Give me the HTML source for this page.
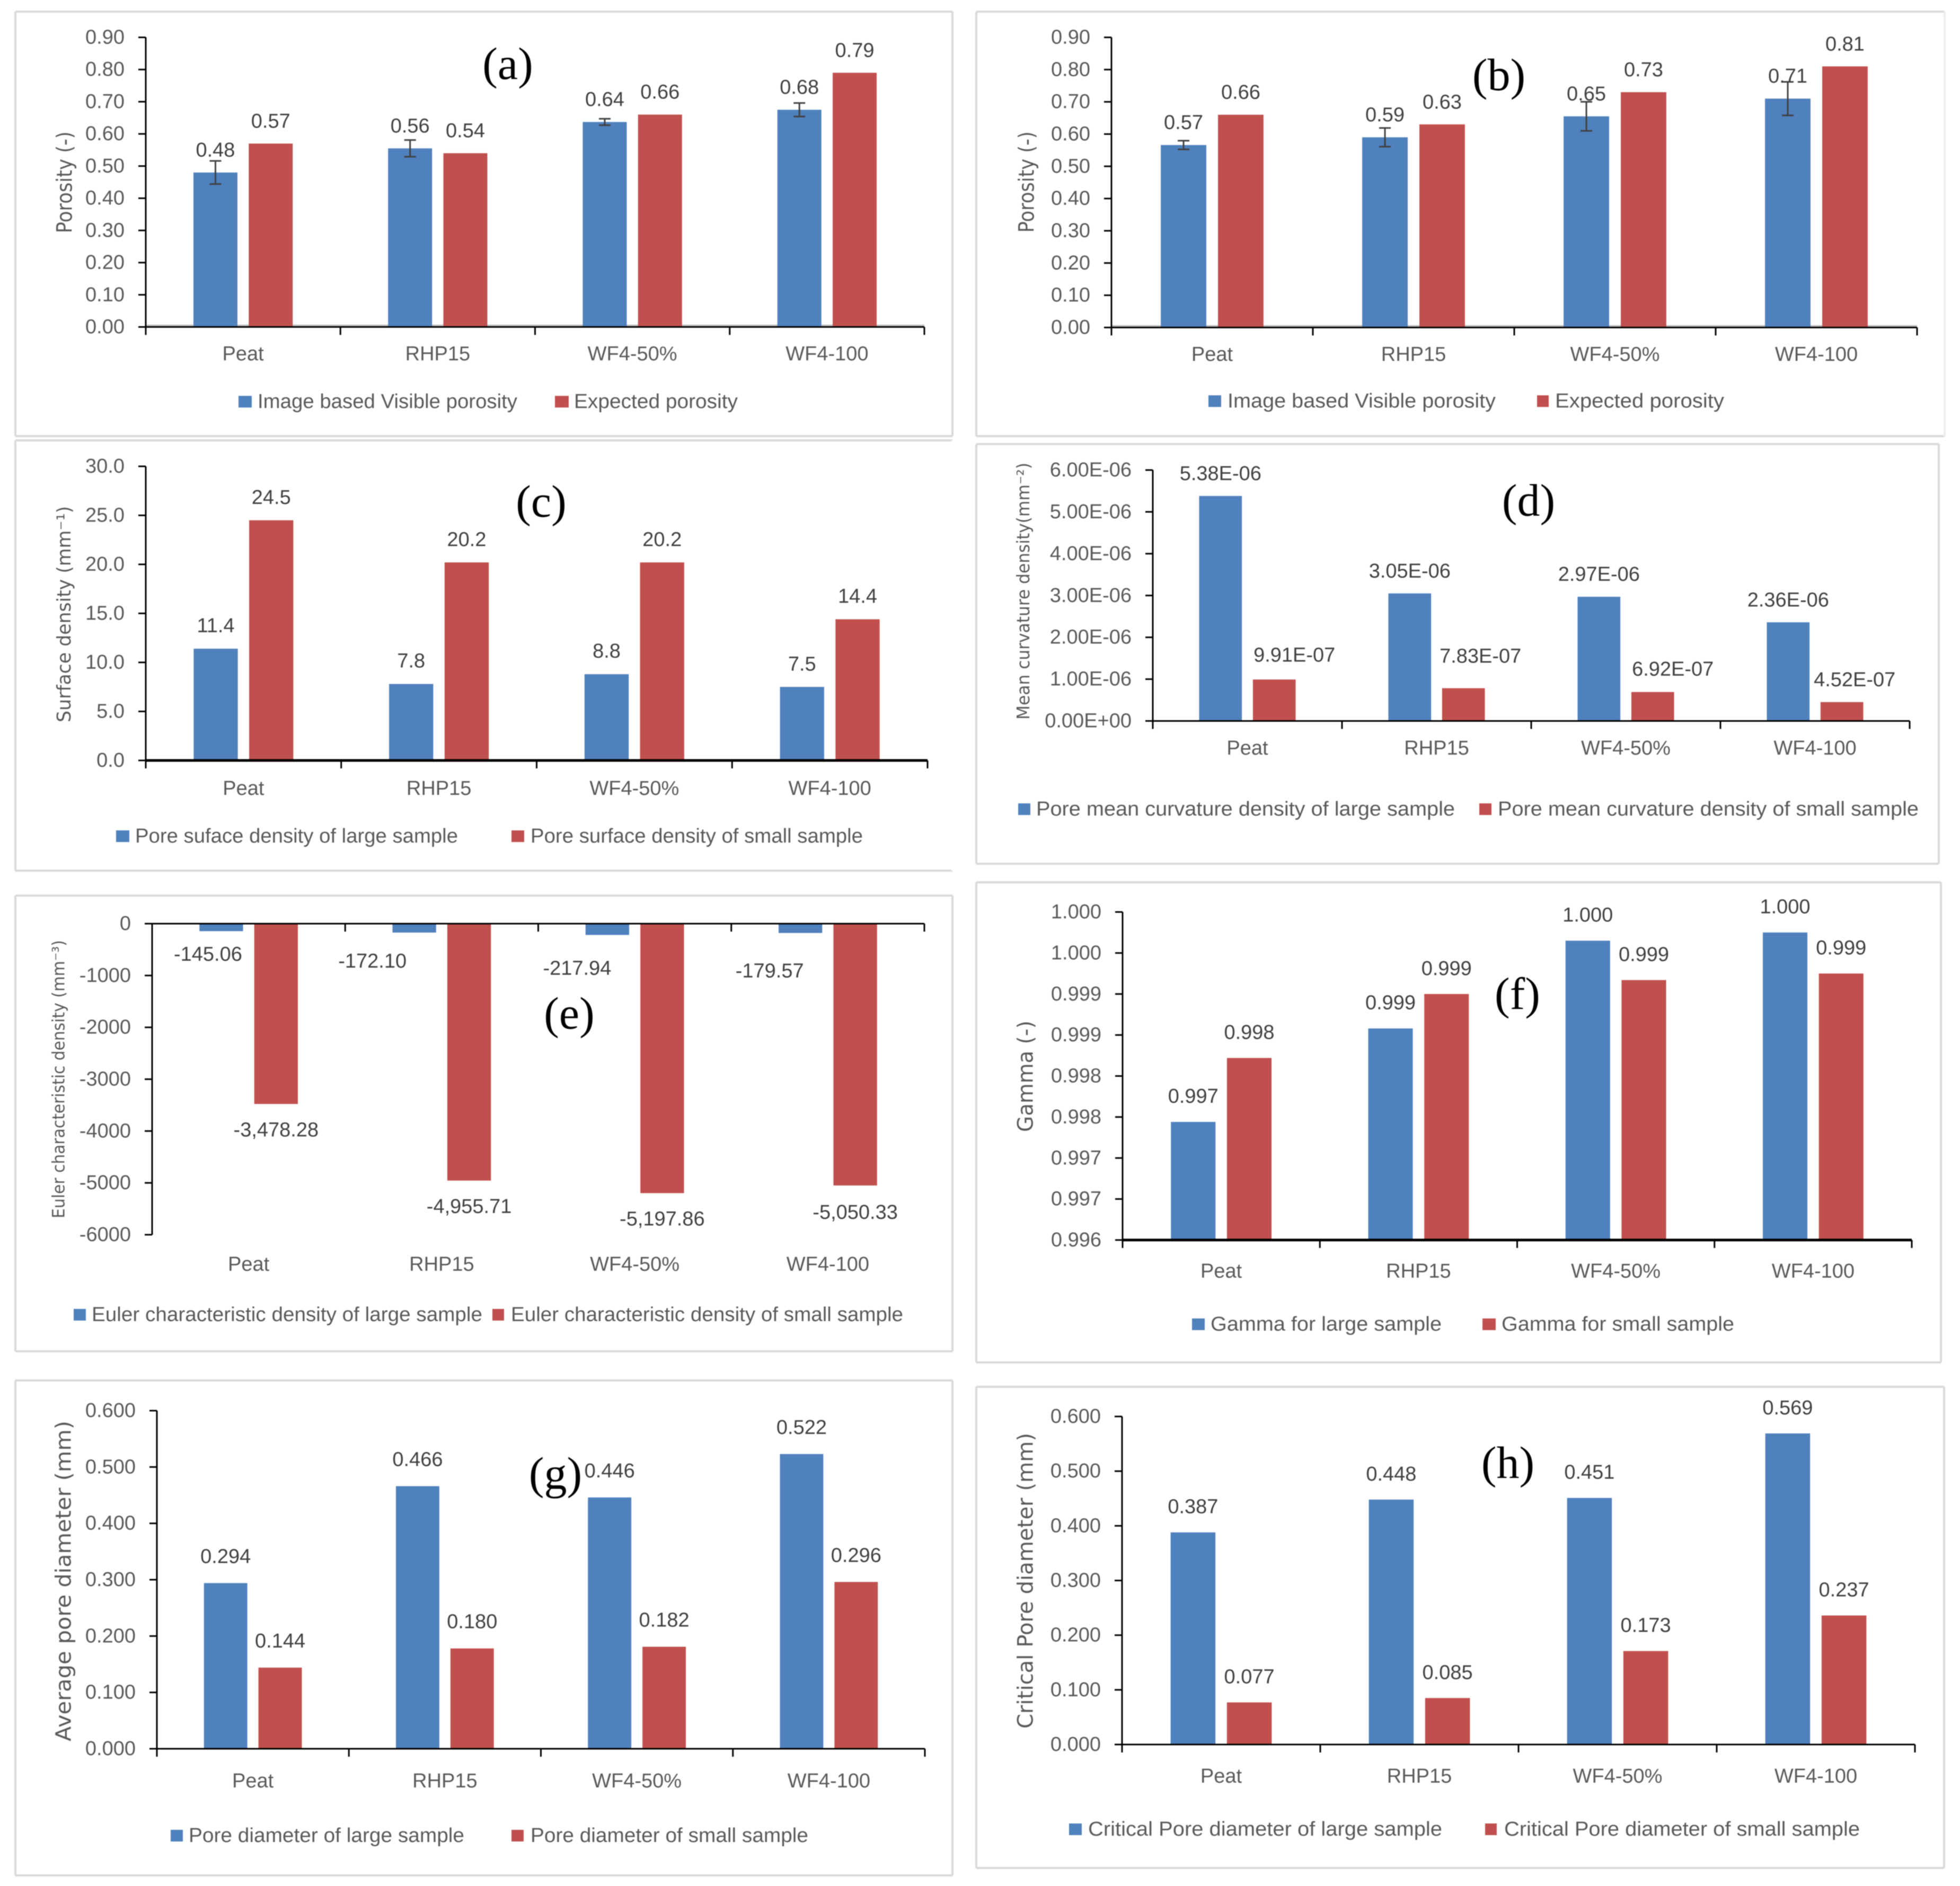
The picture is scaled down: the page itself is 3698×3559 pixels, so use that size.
<!DOCTYPE html>
<html lang="en">
<head>
<meta charset="utf-8">
<title>Pore structure comparison charts</title>
<style>
  html, body { margin: 0; padding: 0; background: #fff; width: 3698px; height: 3559px; overflow: hidden; }
  svg { display: block; filter: blur(0.8px); }
  text { font-family: "Liberation Sans", sans-serif; }
</style>
</head>
<body>
<svg id="figure" xmlns="http://www.w3.org/2000/svg" width="3698" height="3559" viewBox="0 0 3698 3559"></svg>
<script>
const categories = ["Peat", "RHP15", "WF4-50%", "WF4-100"];

const aLarge = [0.48, 0.555, 0.637, 0.675];
const aSmall = [0.57, 0.54, 0.66, 0.79];
const aLargeErr = [0.036, 0.026, 0.010, 0.021];
const aLargeText = ["0.48", "0.56", "0.64", "0.68"];
const aSmallText = ["0.57", "0.54", "0.66", "0.79"];

const bLarge = [0.566, 0.59, 0.655, 0.71];
const bSmall = [0.66, 0.63, 0.73, 0.81];
const bLargeErr = [0.0135, 0.029, 0.045, 0.052];
const bLargeText = ["0.57", "0.59", "0.65", "0.71"];
const bSmallText = ["0.66", "0.63", "0.73", "0.81"];

const porosityTicks = ["0.90", "0.80", "0.70", "0.60", "0.50", "0.40", "0.30", "0.20", "0.10", "0.00"];

const cLarge = [11.4, 7.8, 8.8, 7.5];
const cSmall = [24.5, 20.2, 20.2, 14.4];
const cLargeText = ["11.4", "7.8", "8.8", "7.5"];
const cSmallText = ["24.5", "20.2", "20.2", "14.4"];
const cTicks = ["30.0", "25.0", "20.0", "15.0", "10.0", "5.0", "0.0"];

const dLarge = [5.38e-6, 3.05e-6, 2.97e-6, 2.36e-6];
const dSmall = [9.91e-7, 7.83e-7, 6.92e-7, 4.52e-7];
const dLargeText = ["5.38E-06", "3.05E-06", "2.97E-06", "2.36E-06"];
const dSmallText = ["9.91E-07", "7.83E-07", "6.92E-07", "4.52E-07"];
const dTicks = ["6.00E-06", "5.00E-06", "4.00E-06", "3.00E-06", "2.00E-06", "1.00E-06", "0.00E+00"];

const eLarge = [-145.06, -172.10, -217.94, -179.57];
const eSmall = [-3478.28, -4955.71, -5197.86, -5050.33];
const eLargeText = ["-145.06", "-172.10", "-217.94", "-179.57"];
const eSmallText = ["-3,478.28", "-4,955.71", "-5,197.86", "-5,050.33"];
const eTicks = ["0", "-1000", "-2000", "-3000", "-4000", "-5000", "-6000"];

const fLarge = [0.99744, 0.99858, 0.99965, 0.99975];
const fSmall = [0.99822, 0.99900, 0.99917, 0.99925];
const fLargeText = ["0.997", "0.999", "1.000", "1.000"];
const fSmallText = ["0.998", "0.999", "0.999", "0.999"];
const fTicks = ["1.000", "1.000", "0.999", "0.999", "0.998", "0.998", "0.997", "0.997", "0.996"];

const gLarge = [0.294, 0.466, 0.446, 0.523];
const gSmall = [0.144, 0.178, 0.181, 0.296];
const gLargeText = ["0.294", "0.466", "0.446", "0.522"];
const gSmallText = ["0.144", "0.180", "0.182", "0.296"];
const gTicks = ["0.600", "0.500", "0.400", "0.300", "0.200", "0.100", "0.000"];

const hLarge = [0.388, 0.448, 0.451, 0.569];
const hSmall = [0.077, 0.085, 0.171, 0.236];
const hLargeText = ["0.387", "0.448", "0.451", "0.569"];
const hSmallText = ["0.077", "0.085", "0.173", "0.237"];
const hTicks = ["0.600", "0.500", "0.400", "0.300", "0.200", "0.100", "0.000"];

const BLUE = "#4f81bd";
const RED = "#c0504d";
const GREY = "#595959";
const DARK = "#404040";
const SVGNS = "http://www.w3.org/2000/svg";
const figure = document.getElementById("figure");

function make(parent, tag, props, name, content) {
  const el = document.createElementNS(SVGNS, tag);
  for (const key in props) el.setAttribute(key, props[key]);
  
  
  if (content !== undefined) el.textContent = content;
  parent.appendChild(el);
  return el;
}

function drawPanel(p) {
  const g = make(figure, "g", {}, "panel-" + p.id);
  const [fx1, fy1, fx2, fy2] = p.frame;

  make(g, "rect", { x: fx1, y: fy1, width: fx2 - fx1, height: fy2 - fy1, fill: "#ffffff" }, "panel-background");
  make(g, "line", { x1: fx1, y1: fy1, x2: fx2, y2: fy1, stroke: "#d9d9d9", "stroke-width": 4 }, "frame-top");
  make(g, "line", { x1: fx1, y1: fy2, x2: fx2, y2: fy2, stroke: "#d9d9d9", "stroke-width": 4 }, "frame-bottom");
  make(g, "line", { x1: fx1, y1: fy1, x2: fx1, y2: fy2, stroke: "#d9d9d9", "stroke-width": 4 }, "frame-left");
  make(g, "line", { x1: fx2, y1: fy1, x2: fx2, y2: fy2, stroke: p.frameRight || "#d9d9d9", "stroke-width": 4 }, "frame-right");

  const yScale = v => p.top + (p.max - v) / (p.max - p.min) * (p.bottom - p.top);
  const band = (p.right - p.left) / categories.length;
  const xCenter = i => p.left + band * (i + 0.5);
  const barW = band * 0.226;
  const barOff = band * 0.142;
  const axisY = yScale(p.base);

  if (p.axisShade) {
    make(g, "line", { x1: p.left, y1: axisY - 3, x2: p.right, y2: axisY - 3, stroke: "#bfbfbf", "stroke-width": 3 }, "x-axis-shadow");
  }

  categories.forEach((cat, i) => {
    const vL = p.large[i];
    const vS = p.small[i];
    const xL = xCenter(i) - barOff;
    const xS = xCenter(i) + barOff;
    const yL = yScale(vL);
    const yS = yScale(vS);
    make(g, "rect", { x: xL - barW / 2, y: Math.min(yL, axisY), width: barW, height: Math.abs(yL - axisY), fill: BLUE }, "bar-large-" + cat.toLowerCase().replace("%", ""));
    make(g, "rect", { x: xS - barW / 2, y: Math.min(yS, axisY), width: barW, height: Math.abs(yS - axisY), fill: RED }, "bar-small-" + cat.toLowerCase().replace("%", ""));

    if (p.err) {
      const up = yScale(vL + p.err[i]);
      const dn = yScale(vL - p.err[i]);
      const eg = make(g, "g", { stroke: DARK, "stroke-width": 3 }, "error-bar-" + cat.toLowerCase().replace("%", ""));
      make(eg, "line", { x1: xL, y1: up, x2: xL, y2: dn }, "error-stem");
      make(eg, "line", { x1: xL - 11, y1: up, x2: xL + 11, y2: up }, "error-cap-top");
      make(eg, "line", { x1: xL - 11, y1: dn, x2: xL + 11, y2: dn }, "error-cap-bottom");
    }

    const dxL = p.dxLarge ? p.dxLarge[i] : 0;
    const dyL = p.dyLarge ? p.dyLarge[i] : p.labelDy;
    const dxS = p.dxSmall ? p.dxSmall[i] : 0;
    const dyS = p.dySmall ? p.dySmall[i] : p.labelDy;
    make(g, "text", { x: xL + dxL, y: yL + dyL + 12, "text-anchor": "middle", "font-size": 38, fill: DARK }, "value-label-large", p.largeText[i]);
    make(g, "text", { x: xS + dxS, y: yS + dyS + 12, "text-anchor": "middle", "font-size": 38, fill: DARK }, "value-label-small", p.smallText[i]);

    make(g, "text", { x: xCenter(i), y: p.catY + 12, "text-anchor": "middle", "font-size": 38, fill: GREY }, "category-label", cat);
  });

  const yAxis = make(g, "g", { stroke: "#000000", "stroke-width": 3 }, "y-axis");
  make(yAxis, "line", { x1: p.left, y1: p.top, x2: p.left, y2: p.bottom + (p.base === p.min ? 14 : 0) }, "y-axis-line");
  p.ticks.forEach((label, i) => {
    const v = p.max - i * (p.max - p.min) / (p.ticks.length - 1);
    const y = yScale(v);
    make(yAxis, "line", { x1: p.left - 14, y1: y, x2: p.left, y2: y }, "y-tick");
    make(g, "text", { x: p.left - 40, y: y + 12, "text-anchor": "end", "font-size": 38, fill: GREY }, "y-tick-label", label);
  });

  const xAxis = make(g, "g", { stroke: "#000000", "stroke-width": p.axisWidth || 3 }, "x-axis");
  make(xAxis, "line", { x1: p.left, y1: axisY, x2: p.right, y2: axisY }, "x-axis-line");
  for (let i = 0; i <= categories.length; i++) {
    const x = p.left + band * i;
    make(xAxis, "line", { x1: x, y1: axisY, x2: x, y2: axisY + 15, "stroke-width": 3 }, "x-tick");
  }

  const titleY = (p.titleTop + p.titleBottom) / 2;
  make(g, "text", {
    transform: "translate(" + (p.titleX + p.titleSize * 0.36) + " " + titleY + ") rotate(-90)",
    "text-anchor": "middle",
    "font-size": p.titleSize,
    fill: GREY,
    style: 'font-family:"DejaVu Sans",sans-serif',
    textLength: p.titleBottom - p.titleTop,
    lengthAdjust: "spacingAndGlyphs"
  }, "y-axis-title", p.title);

  const lg = p.legend;
  const legend = make(g, "g", {}, "legend");
  make(legend, "rect", { x: lg.b[0], y: p.legendY - 11, width: lg.b[1] - lg.b[0], height: 22, fill: BLUE }, "legend-swatch-large");
  make(legend, "text", { x: lg.b[2], y: p.legendY + 12, "font-size": 38, fill: GREY, textLength: lg.b[3] - lg.b[2], lengthAdjust: "spacingAndGlyphs" }, "legend-entry-large", lg.bText);
  make(legend, "rect", { x: lg.r[0], y: p.legendY - 11, width: lg.r[1] - lg.r[0], height: 22, fill: RED }, "legend-swatch-small");
  make(legend, "text", { x: lg.r[2], y: p.legendY + 12, "font-size": 38, fill: GREY, textLength: lg.r[3] - lg.r[2], lengthAdjust: "spacingAndGlyphs" }, "legend-entry-small", lg.rText);

  make(g, "text", { x: p.tagX, y: p.tagY + 24, "text-anchor": "middle", "font-size": 86, fill: "#000000", style: 'font-family:"Liberation Serif",serif' }, "panel-tag", "(" + p.id + ")");
}

drawPanel({
  id: "a", frame: [29, 22, 1797, 823],
  left: 275, right: 1744, top: 70.5, bottom: 617, max: 0.9, min: 0, base: 0,
  large: aLarge, small: aSmall, err: aLargeErr, largeText: aLargeText, smallText: aSmallText,
  ticks: porosityTicks, labelDy: -42, catY: 668, legendY: 758, axisShade: true, axisWidth: 3,
  title: "Porosity (-)", titleX: 121, titleTop: 248, titleBottom: 440, titleSize: 40,
  legend: { b: [450, 475, 486, 976], r: [1047, 1073, 1083, 1392], bText: "Image based Visible porosity", rText: "Expected porosity" },
  tagX: 958, tagY: 125
});

drawPanel({
  id: "b", frame: [1842, 22, 3669, 823], frameRight: "#eeeeee",
  left: 2097, right: 3617, top: 70.5, bottom: 618, max: 0.9, min: 0, base: 0,
  large: bLarge, small: bSmall, err: bLargeErr, largeText: bLargeText, smallText: bSmallText,
  ticks: porosityTicks, labelDy: -42, catY: 669, legendY: 757, axisShade: true,
  title: "Porosity (-)", titleX: 1936, titleTop: 248, titleBottom: 439, titleSize: 40,
  legend: { b: [2280, 2304, 2316, 2822], r: [2900, 2922, 2934, 3253], bText: "Image based Visible porosity", rText: "Expected porosity" },
  tagX: 2828, tagY: 146
});

drawPanel({
  id: "c", frame: [29, 831, 1797, 1643], frameRight: "#ffffff",
  left: 275, right: 1750, top: 880, bottom: 1435, max: 30, min: 0, base: 0,
  large: cLarge, small: cSmall, largeText: cLargeText, smallText: cSmallText,
  ticks: cTicks, labelDy: -43, catY: 1488, legendY: 1578, axisWidth: 5,
  title: "Surface density (mm\u207B\u00B9)", titleX: 120, titleTop: 955, titleBottom: 1363, titleSize: 36,
  legend: { b: [219, 244, 255, 864], r: [965, 989, 1001, 1628], bText: "Pore suface density of large sample", rText: "Pore surface density of small sample" },
  tagX: 1021, tagY: 951
});

drawPanel({
  id: "d", frame: [1842, 838, 3658, 1630],
  left: 2175, right: 3603, top: 887, bottom: 1360.5, max: 6e-6, min: 0, base: 0,
  large: dLarge, small: dSmall, largeText: dLargeText, smallText: dSmallText,
  ticks: dTicks, labelDy: -42, dxSmall: [38, 32, 38, 24], dySmall: [-46, -60, -43, -42],
  catY: 1412, legendY: 1527,
  title: "Mean curvature density(mm\u207B\u00B2)", titleX: 1930, titleTop: 873, titleBottom: 1358, titleSize: 33,
  legend: { b: [1921, 1944, 1955, 2745], r: [2791, 2814, 2826, 3620], bText: "Pore mean curvature density of large sample", rText: "Pore mean curvature density of small sample" },
  tagX: 2884, tagY: 949
});

drawPanel({
  id: "e", frame: [29, 1690, 1797, 2550],
  left: 287, right: 1744, top: 1743, bottom: 2330, max: 0, min: -6000, base: 0,
  large: eLarge, small: eSmall, largeText: eLargeText, smallText: eSmallText,
  ticks: eTicks, dxLarge: [-25, -79, -57, -58], dyLarge: [44, 54, 63, 72], dySmall: [49, 49, 49, 51],
  catY: 2386, legendY: 2481,
  title: "Euler characteristic density (mm\u207B\u00B3)", titleX: 110, titleTop: 1774, titleBottom: 2299, titleSize: 32,
  legend: { b: [139, 162, 173, 910], r: [929, 951, 964, 1704], bText: "Euler characteristic density of large sample", rText: "Euler characteristic density of small sample" },
  tagX: 1074, tagY: 1917
});

drawPanel({
  id: "f", frame: [1842, 1665, 3662, 2571],
  left: 2118, right: 3607, top: 1721, bottom: 2340, max: 1.0, min: 0.996, base: 0.996,
  large: fLarge, small: fSmall, largeText: fLargeText, smallText: fSmallText,
  ticks: fTicks, labelDy: -48, catY: 2399, legendY: 2499, axisWidth: 5,
  title: "Gamma (-)", titleX: 1934, titleTop: 1926, titleBottom: 2136, titleSize: 40,
  legend: { b: [2249, 2273, 2284, 2720], r: [2797, 2822, 2833, 3272], bText: "Gamma for large sample", rText: "Gamma for small sample" },
  tagX: 2863, tagY: 1880
});

drawPanel({
  id: "g", frame: [29, 2605, 1797, 3539],
  left: 296, right: 1745, top: 2662, bottom: 3300, max: 0.6, min: 0, base: 0,
  large: gLarge, small: gSmall, largeText: gLargeText, smallText: gSmallText,
  ticks: gTicks, labelDy: -50, catY: 3361, legendY: 3464,
  title: "Average pore diameter (mm)", titleX: 119, titleTop: 2681, titleBottom: 3286, titleSize: 40,
  legend: { b: [322, 345, 356, 876], r: [965, 988, 1001, 1525], bText: "Pore diameter of large sample", rText: "Pore diameter of small sample" },
  tagX: 1048, tagY: 2785
});

drawPanel({
  id: "h", frame: [1842, 2617, 3668, 3525],
  left: 2117, right: 3613, top: 2673, bottom: 3292, max: 0.6, min: 0, base: 0,
  large: hLarge, small: hSmall, largeText: hLargeText, smallText: hSmallText,
  ticks: hTicks, labelDy: -48, catY: 3352, legendY: 3452,
  title: "Critical Pore diameter (mm)", titleX: 1934, titleTop: 2704, titleBottom: 3262, titleSize: 40,
  legend: { b: [2017, 2041, 2053, 2721], r: [2802, 2824, 2838, 3509], bText: "Critical Pore diameter of large sample", rText: "Critical Pore diameter of small sample" },
  tagX: 2845, tagY: 2765
});
</script>
</body>
</html>
